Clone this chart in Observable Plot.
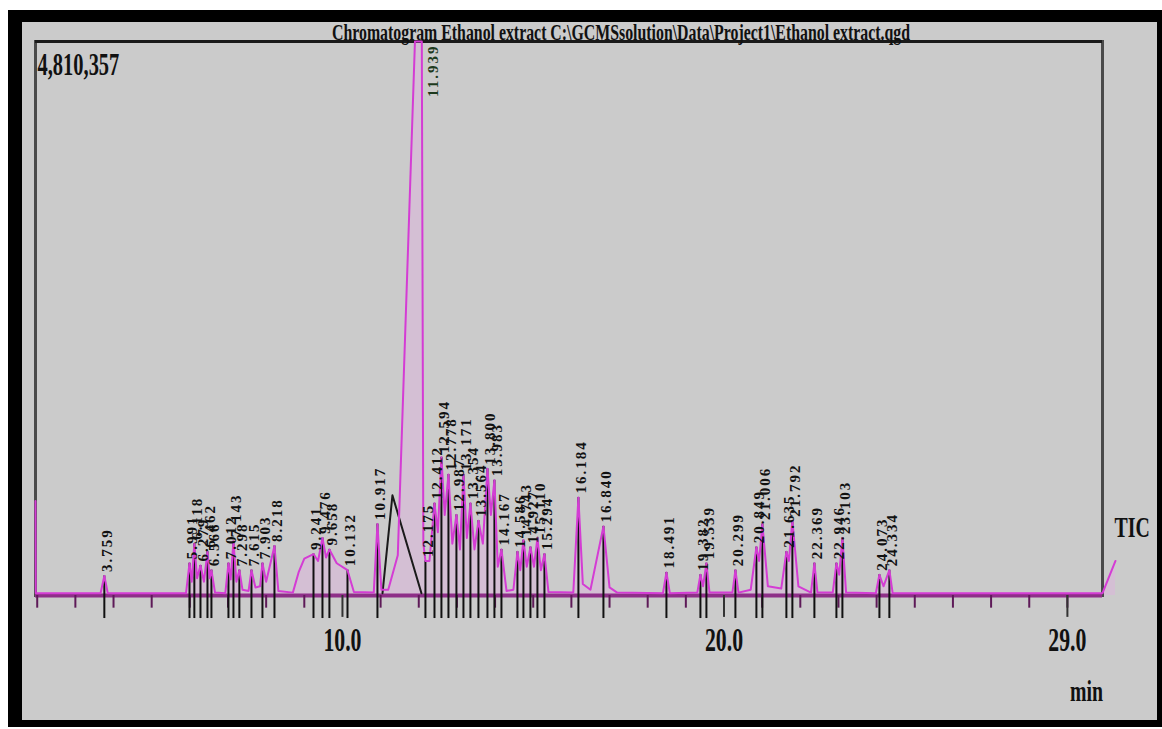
<!DOCTYPE html>
<html><head><meta charset="utf-8">
<script src="https://cdn.jsdelivr.net/npm/d3@7"></script>
<script src="https://cdn.jsdelivr.net/npm/@observablehq/plot@0.6"></script>
<style>
html,body{margin:0;padding:0;background:#fff;width:1162px;height:729px;overflow:hidden}
#bg{position:absolute;left:8px;top:10px;width:1154px;height:717px;background:#cbcbcb}
#chart{position:absolute;left:0;top:0}
#border{position:absolute;left:8px;top:10px;width:1154px;height:717px;box-sizing:border-box;border:solid #000;border-width:12px 5px 7px 14px;pointer-events:none}
</style></head><body>
<div id="bg"></div><div id="chart"></div><div id="border"></div>
<script>
// ---- data ----
const chartTitle = "Chromatogram Ethanol extract C:\\GCMSsolution\\Data\\Project1\\Ethanol extract.qgd";
const yMax = 4810357;
const yMaxLabel = "4,810,357";
const traceName = "TIC";
const xUnit = "min";

const traceTime = [1.955,1.962,3.66,3.759,3.85,5.90,5.991,6.05,6.118,6.19,
  6.279,6.37,6.462,6.52,6.566,6.66,6.93,7.012,7.07,7.143,
  7.22,7.298,7.38,7.54,7.615,7.72,7.84,7.903,8.00,8.218,
  8.32,8.70,8.85,9.00,9.241,9.36,9.476,9.57,9.658,9.85,
  10.132,10.30,10.82,10.917,11.02,11.20,11.45,11.90,12.08,12.12,
  12.175,12.28,12.412,12.50,12.594,12.68,12.778,12.88,12.987,13.08,
  13.171,13.26,13.354,13.46,13.564,13.68,13.800,13.89,13.983,14.07,
  14.167,14.30,14.48,14.586,14.66,14.743,14.83,14.927,15.02,15.110,
  15.20,15.294,15.40,16.05,16.184,16.30,16.50,16.840,17.00,17.20,
  18.40,18.491,18.58,19.30,19.382,19.45,19.539,19.62,20.22,20.299,
  20.38,20.70,20.849,20.92,21.006,21.15,21.50,21.635,21.70,21.792,
  21.95,22.28,22.369,22.45,22.85,22.946,23.02,23.103,23.20,23.98,
  24.073,24.18,24.334,24.42,29.92,30.26];
const traceIntensity = [820000,20000,20000,170000,20000,20000,280000,120000,450000,150000,
  260000,120000,380000,150000,220000,25000,20000,280000,140000,470000,
  120000,220000,50000,40000,220000,70000,80000,280000,120000,430000,
  40000,25000,200000,320000,360000,300000,500000,330000,400000,280000,
  220000,30000,25000,620000,50000,50000,350000,4810357,4810357,450000,
  300000,300000,800000,550000,1200000,700000,1050000,450000,700000,400000,
  1050000,500000,800000,400000,650000,450000,1100000,700000,1000000,250000,
  400000,40000,50000,380000,220000,480000,250000,420000,250000,500000,
  220000,360000,30000,25000,850000,100000,50000,600000,70000,25000,
  20000,200000,20000,25000,180000,80000,280000,25000,25000,220000,
  25000,50000,420000,300000,620000,80000,60000,380000,300000,650000,
  80000,25000,280000,25000,25000,280000,180000,500000,25000,20000,
  180000,80000,220000,20000,20000,300000];

const peakTime = [3.759,5.991,6.118,6.279,6.462,6.566,7.012,7.143,7.298,7.615,
  7.903,8.218,9.241,9.476,9.658,10.132,10.917,12.175,12.412,12.594,
  12.778,12.987,13.171,13.354,13.564,13.800,13.983,14.167,14.586,14.743,
  14.927,15.110,15.294,16.184,16.840,18.491,19.382,19.539,20.299,20.849,
  21.006,21.635,21.792,22.369,22.946,23.103,24.073,24.334];
const peakHeight = [170000,280000,450000,260000,380000,220000,280000,470000,220000,220000,
  280000,430000,360000,500000,400000,220000,620000,300000,800000,1200000,
  1050000,700000,1050000,800000,650000,1100000,1000000,400000,380000,480000,
  420000,500000,360000,850000,600000,200000,180000,280000,220000,420000,
  620000,380000,650000,280000,280000,500000,180000,220000];
const peakLabel = ["3.759","5.991","6.118","6.279","6.462","6.566","7.012","7.143","7.298","7.615",
  "7.903","8.218","9.241","9.476","9.658","10.132","10.917","12.175","12.412","12.594",
  "12.778","12.987","13.171","13.354","13.564","13.800","13.983","14.167","14.586","14.743",
  "14.927","15.110","15.294","16.184","16.840","18.491","19.382","19.539","20.299","20.849",
  "21.006","21.635","21.792","22.369","22.946","23.103","24.073","24.334"];

const mainPeakTime = 11.939;
const mainPeakLabel = "11.939";

const integTime = [11.05, 11.31, 12.07];
const integIntensity = [20000, 870000, 20000];

const majorTicks = [10, 20, 29];
const majorTickLabels = ["10.0", "20.0", "29.0"];
const minorTicks = [2,3,4,5,6,7,8,9,11,12,13,14,15,16,17,18,19,21,22,23,24,25,26,27,28,29];

// ---- build ----
const trace = traceTime.map((t, i) => ({t, v: traceIntensity[i]}));
const peaks = peakTime.map((t, i) => ({t, h: peakHeight[i], label: peakLabel[i]}));
const integ = integTime.map((t, i) => ({t, v: integIntensity[i]}));
const serif = "'Liberation Serif', 'DejaVu Serif', serif";
const ink = "#111";

const chart = Plot.plot({
  width: 1162, height: 729,
  marginLeft: 35, marginRight: 60, marginTop: 41, marginBottom: 134,
  style: {background: "transparent", overflow: "visible"},
  x: {domain: [1.955, 29.92], axis: null},
  y: {domain: [0, yMax], axis: null},
  marks: [
    Plot.areaY(trace, {x: "t", y: "v", fill: "#e6a8e6", fillOpacity: 0.35}),
    Plot.frame({stroke: "#4a4a4a", strokeWidth: 3}),
    Plot.ruleY([yMax], {stroke: "#1a1a1a", strokeWidth: 3}),
    Plot.ruleY([0], {stroke: "#8e2f88", strokeWidth: 4}),
    Plot.ruleX(minorTicks, {y1: 0, y2: -110000, stroke: "#5e1a58", strokeWidth: 2}),
    Plot.ruleX(majorTicks, {y1: 0, y2: -190000, stroke: "#333", strokeWidth: 2}),
    Plot.ruleX(peaks, {x: "t", y1: -200000, y2: "h", stroke: ink, strokeWidth: 2}),
    Plot.line(integ, {x: "t", y: "v", stroke: "#1a1a1a", strokeWidth: 2}),
    Plot.line(trace, {x: "t", y: "v", stroke: "#d43cd4", strokeWidth: 2}),
    Plot.text(peaks, {x: "t", y: "h", text: "label", rotate: -90, textAnchor: "start",
      lineAnchor: "middle", dx: 3, dy: -4, fontSize: 15, fontWeight: "bold", fontFamily: serif, fill: ink}),
    Plot.text([mainPeakLabel], {x: () => mainPeakTime, text: d => d, frameAnchor: "top",
      rotate: -90, textAnchor: "end", lineAnchor: "middle", dx: 17, dy: 3, fontSize: 15, fontWeight: "bold",
      fontFamily: serif, fill: "#1d3a1d"}),
    Plot.text(majorTicks, {x: d => d, text: (d, i) => majorTickLabels[i], frameAnchor: "bottom",
      lineAnchor: "middle", dy: 45, fontSize: 33, fontWeight: "bold", fontFamily: serif, fill: ink}),
    Plot.text([yMaxLabel], {text: d => d, frameAnchor: "top-left", textAnchor: "start", lineAnchor: "middle",
      dx: 2, dy: 24, fontSize: 31, fontWeight: "bold", fontFamily: serif, fill: ink}),
    Plot.text([traceName], {text: d => d, frameAnchor: "bottom-right", textAnchor: "start", lineAnchor: "middle",
      dx: 12, dy: -68, fontSize: 30, fontWeight: "bold", fontFamily: serif, fill: ink}),
    Plot.text([xUnit], {text: d => d, frameAnchor: "bottom-right", textAnchor: "middle", lineAnchor: "middle",
      dx: -16, dy: 96, fontSize: 30, fontWeight: "bold", fontFamily: serif, fill: ink}),
    Plot.text([chartTitle], {text: d => d, frameAnchor: "top", textAnchor: "middle", lineAnchor: "middle",
      dx: 52, dy: -9, fontSize: 24, fontWeight: "bold", fontFamily: serif, fill: ink})
  ]
});
document.getElementById("chart").appendChild(chart);

// horizontally condense the upright texts (the original screenshot is squeezed sideways)
const condensed = new Set([...majorTickLabels, yMaxLabel, traceName, xUnit, chartTitle]);
const peakTexts = new Set([...peakLabel, mainPeakLabel]);
chart.querySelectorAll("text").forEach(t => {
  const s = t.textContent;
  if (condensed.has(s)) {
    const len = t.getComputedTextLength();
    if (len > 0) {
      t.setAttribute("textLength", (len * 0.66).toFixed(1));
      t.setAttribute("lengthAdjust", "spacingAndGlyphs");
    }
  } else if (peakTexts.has(s)) {
    t.style.letterSpacing = "2px";
  }
});
</script></body></html>
